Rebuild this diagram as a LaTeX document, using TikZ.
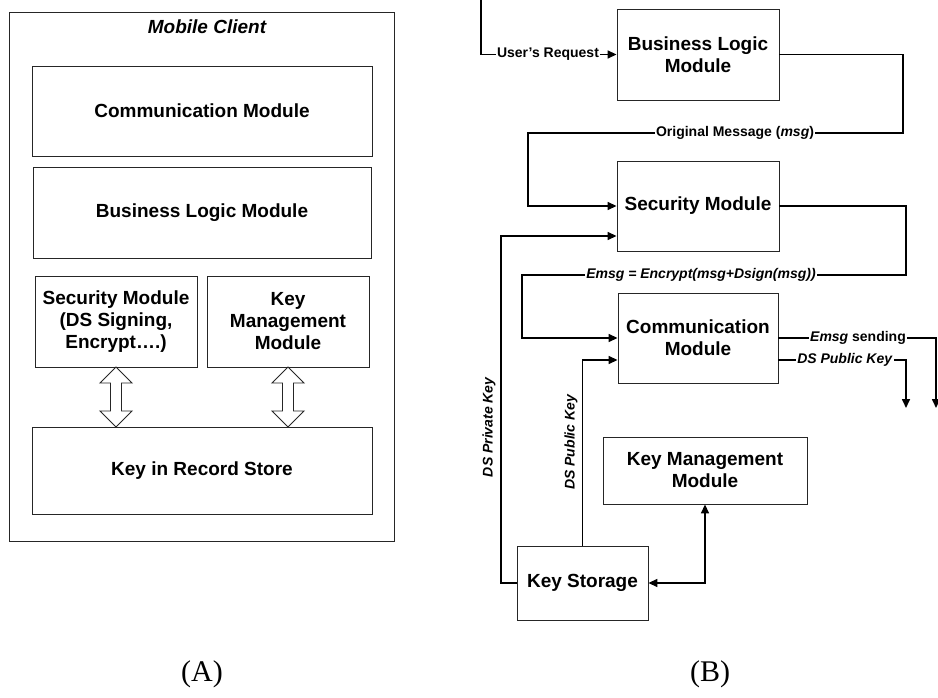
\documentclass[tikz,border=0pt]{standalone}
\usepackage{fontspec}
\setmainfont{Liberation Sans}
\newfontfamily\capfont{Liberation Serif}
\usetikzlibrary{arrows.meta,calc}
\begin{document}
\begin{tikzpicture}[x=1pt,y=-1pt,
  box/.style={draw=black!85,line width=0.9pt,minimum width=#1,align=center,inner sep=0pt,
    font=\fontsize{19}{22}\selectfont\bfseries},
  conn/.style={line width=1.6pt,draw=black},
  arr/.style={conn,-{Triangle[length=9pt,width=8pt]}},
  darr/.style={conn,{Triangle[length=9pt,width=8pt]}-{Triangle[length=9pt,width=8pt]}},
  lbl/.style={fill=white,inner sep=1.5pt,font=\fontsize{14}{16}\selectfont\bfseries},
  dbl/.style={draw=black!85,line width=0.9pt,fill=white},
  captext/.style={font=\capfont\fontsize{30}{32}\selectfont}
]
\useasboundingbox (0,0) rectangle (938,698);

% ---------- (A) ----------
\node[draw=black!85,line width=0.9pt,minimum width=385pt,minimum height=529pt,inner sep=0pt] (mc) at (201.5,276.5) {};
\node[font=\fontsize{19}{22}\selectfont\bfseries\itshape] (mct) at (207,27) {Mobile Client};
\node[box=340pt,minimum height=90pt] (commA) at (202,111) {Communication Module};
\node[box=338pt,minimum height=91pt] (blmA) at (202,212.5) {Business Logic Module};
\node[box=162pt,minimum height=91pt] (secA) at (116,321.5) {Security Module\\(DS Signing,\\Encrypt\dots.)};
\node[box=162pt,minimum height=91pt] (kmA) at (288,321.5) {Key\\Management\\Module};
\node[box=340pt,minimum height=87pt] (krs) at (202,470.5) {Key in Record Store};

\foreach \n/\cx in {secA/116,kmA/288}{
  \draw[dbl] (\cx,367) -- (\cx+16,383) -- (\cx+5.5,383) -- (\cx+5.5,411) -- (\cx+16,411)
    -- (\cx,427) -- (\cx-16,411) -- (\cx-5.5,411) -- (\cx-5.5,383) -- (\cx-16,383) -- cycle;
}

% ---------- (B) ----------
\node[box=162pt,minimum height=91pt] (blm) at (698,54.5) {Business Logic\\Module};
\node[box=162pt,minimum height=90pt] (sm) at (698,206) {Security Module};
\node[box=160pt,minimum height=90pt] (cm) at (698,338) {Communication\\Module};
\node[box=204pt,minimum height=67pt] (kmm) at (705,470.5) {Key Management\\Module};
\node[box=131pt,minimum height=74pt] (ks) at (582.5,583) {Key Storage};

\coordinate (in) at (481,0);
\draw[arr] (in) |- (blm.west);
\node[lbl] (ur) at (548,54.5) {User’s Request};

\draw[arr] (blm.east) -- (903,54.5) -- (903,133) -- (528,133) -- (528,206) -- (sm.west);
\node[lbl] (om) at (735,133) {Original Message (\textit{msg})};

\draw[arr] (sm.east) -- (906,206) -- (906,275) -- (522,275) -- (522,338) -- (cm.west);
\node[lbl] (em) at (701,275) {\textit{Emsg = Encrypt(msg+Dsign(msg))}};

\coordinate (o1) at (936,408);
\coordinate (o2) at (906,408);
\draw[arr] (cm.east) -- (936,338) -- (o1);
\node[lbl] (es) at (858,338) {\textit{Emsg} sending};
\draw[arr] (778,360) -- (906,360) -- (o2);
\node[lbl] (dpk) at (845,360) {\textit{DS Public Key}};

\draw[arr] (ks.west) -- (501,583) -- (501,236) -- (sm.west |- 0,236);
\node[lbl,rotate=90,inner sep=0pt] (dpr) at (489,427) {\textit{DS Private Key}};

\draw[arr] (ks.north) -- (582.5,360) -- (cm.west |- 0,360);
\node[lbl,rotate=90,inner sep=0pt] (dpu) at (571,442) {\textit{DS Public Key}};

\draw[darr] (ks.east) -| (kmm.south);

% captions
\node[captext] (ca) at (202,674) {(A)};
\node[captext] (cb) at (710,674) {(B)};
\end{tikzpicture}
\end{document}
